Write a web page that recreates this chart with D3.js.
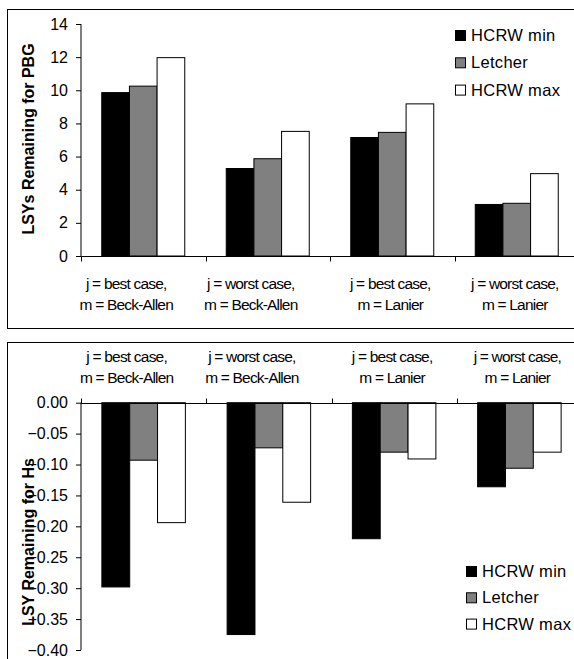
<!DOCTYPE html>
<html>
<head>
<meta charset="utf-8">
<script src="https://cdn.jsdelivr.net/npm/d3@7"></script>
<style>
  body { margin: 0; background: #fff; }
  svg { display: block; font-family: "Liberation Sans", Arial, sans-serif; }
</style>
</head>
<body>
<div id="chart"></div>
<script>
// categories and series
var categories = ["j = best case,|m = Beck-Allen", "j = worst case,|m = Beck-Allen",
                  "j = best case,|m = Lanier", "j = worst case,|m = Lanier"];
var series = ["HCRW min", "Letcher", "HCRW max"];
var colors = ["#000000", "#808080", "#ffffff"];

// top chart: LSYs remaining for PBG
var pbgMin = [9.86, 5.28, 7.15, 3.11];
var pbgLetcher = [10.25, 5.87, 7.46, 3.18];
var pbgMax = [11.97, 7.52, 9.18, 4.97];
var pbgTicks = [0, 2, 4, 6, 8, 10, 12, 14];

// bottom chart: LSY remaining for Hs
var hsMin = [-0.298, -0.375, -0.220, -0.136];
var hsLetcher = [-0.093, -0.073, -0.080, -0.106];
var hsMax = [-0.194, -0.161, -0.091, -0.080];
var hsTicks = [0, -0.05, -0.10, -0.15, -0.20, -0.25, -0.30, -0.35, -0.40];

var labelShift = [-17, -17, -2, -2];

var svg = d3.select("#chart").append("svg")
  .attr("width", 574)
  .attr("height", 659);

function drawPanel(opt) {
  var g = svg.append("g");

  // outer frame
  g.append("rect")
    .attr("x", 7.5).attr("y", opt.frameTop + 0.5)
    .attr("width", 600).attr("height", opt.frameH)
    .attr("fill", "#fff").attr("stroke", "#000").attr("stroke-width", 1);

  var x = d3.scaleBand().domain(categories).range(opt.xRange);
  var xs = d3.scaleBand().domain(series).range([0, x.bandwidth()])
    .paddingInner(0).paddingOuter(0.75);
  var y = d3.scaleLinear().domain(opt.yDomain).range(opt.yRange);

  var rows = [];
  categories.forEach(function(c, i) {
    opt.values.forEach(function(vals, s) {
      rows.push({ cat: c, ser: series[s], v: vals[i], color: colors[s] });
    });
  });

  // bars
  g.append("g").selectAll("rect")
    .data(rows)
    .enter().append("rect")
      .attr("x", function(d) { return x(d.cat) + xs(d.ser); })
      .attr("y", function(d) { return Math.min(y(d.v), y(0)); })
      .attr("width", xs.bandwidth())
      .attr("height", function(d) { return Math.abs(y(d.v) - y(0)); })
      .attr("fill", function(d) { return d.color; })
      .attr("stroke", "#000")
      .attr("stroke-width", 1);

  // y axis
  var yAxis = g.append("g")
    .attr("transform", "translate(" + opt.xRange[0] + ",0)")
    .call(d3.axisLeft(y).tickValues(opt.ticks).tickSize(5).tickPadding(8)
      .tickFormat(opt.fmt));
  yAxis.select(".domain").attr("d", "M0," + y(opt.yDomain[0]) + "V" + y(opt.yDomain[1]));
  yAxis.selectAll("text").style("font-size", "16px").attr("fill", "#000");
  yAxis.selectAll("line, path").attr("stroke", "#000");

  // category axis line at zero
  var y0 = Math.round(y(0)) + 0.5;
  g.append("line")
    .attr("x1", opt.xRange[0]).attr("x2", opt.xRange[1])
    .attr("y1", y0).attr("y2", y0)
    .attr("stroke", "#000");
  g.append("g").selectAll("line")
    .data(categories)
    .enter().append("line")
      .attr("x1", function(d) { return Math.round(x(d)) + 0.5; })
      .attr("x2", function(d) { return Math.round(x(d)) + 0.5; })
      .attr("y1", y0).attr("y2", y0 + opt.tickDir * 5)
      .attr("stroke", "#000");

  // category labels
  var lab = g.append("g").selectAll("text")
    .data(categories)
    .enter().append("text")
      .attr("text-anchor", "middle")
      .style("font-size", "15.5px")
      .style("letter-spacing", "-0.8px");
  lab.each(function(d, i) {
    var cx = x(d) + x.bandwidth() / 2 + labelShift[i];
    var parts = d.split("|");
    var t = d3.select(this);
    parts.forEach(function(p, k) {
      t.append("tspan").attr("x", cx).attr("y", opt.labelY[k]).text(p);
    });
  });

  // y title
  g.append("text")
    .attr("transform", "translate(" + 34 + "," + opt.titleY + ") rotate(-90)")
    .attr("text-anchor", "middle")
    .style("font-size", "16px")
    .style("font-weight", "bold")
    .text(opt.title);

  // legend
  var leg = g.append("g").selectAll("g")
    .data(series)
    .enter().append("g")
      .attr("transform", function(d, i) {
        return "translate(" + opt.legX + "," + (opt.legY + i * opt.legStep) + ")";
      });
  leg.append("rect")
    .attr("x", 0.5).attr("y", -4.5).attr("width", 10).attr("height", 10)
    .attr("fill", function(d, i) { return colors[i]; })
    .attr("stroke", "#000");
  leg.append("text")
    .attr("x", 16).attr("y", 6)
    .style("font-size", "16.5px")
    .style("letter-spacing", "0.3px")
    .text(function(d) { return d; });
}

drawPanel({
  frameTop: 9, frameH: 319,
  xRange: [81, 579], yDomain: [0, 14], yRange: [256, 24],
  values: [pbgMin, pbgLetcher, pbgMax],
  ticks: pbgTicks, fmt: d3.format("d"),
  tickDir: 1, labelY: [288.5, 309.5],
  title: "LSYs Remaining for PBG", titleY: 139,
  legX: 455, legY: 35, legStep: 27.3
});

drawPanel({
  frameTop: 342, frameH: 340,
  xRange: [81, 582], yDomain: [-0.4, 0], yRange: [650, 402.7],
  values: [hsMin, hsLetcher, hsMax],
  ticks: hsTicks, fmt: d3.format(".2f"),
  tickDir: -1, labelY: [361.7, 382.7],
  title: "LSY Remaining for Hs", titleY: 542,
  legX: 466, legY: 571, legStep: 26.3
});
</script>
</body>
</html>
